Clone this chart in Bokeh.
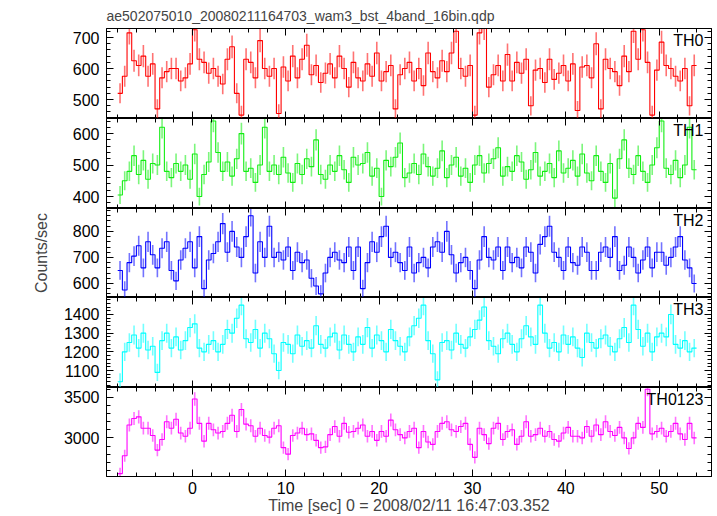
import numpy as np
from bokeh.plotting import figure
from bokeh.models import Range1d, LinearAxis, SingleIntervalTicker, Label
from bokeh.layouts import column
from bokeh.embed import file_html
from bokeh.resources import INLINE

TITLE = "ae502075010_20080211164703_wam3_bst_4band_16bin.qdp"
X_LABEL = "Time [sec] 0 = 2008/02/11 16:47:03.352"
Y_LABEL = "Counts/sec"
BIN_START = -8.0
BIN_WIDTH = 0.5

panel_names = ["TH0", "TH1", "TH2", "TH3", "TH0123"]
panel_colors = ["#ff0000", "#11ee11", "#0000ff", "#00ffff", "#ff00ff"]
y_limits = [(439, 729), (362, 648), (546, 888), (1009, 1491), (2524, 3622)]
y_major = [100, 100, 100, 100, 500]
x_limits = (-9.2, 55.6)

th0 = [520, 575, 715, 625, 610, 640, 575, 615, 470, 570, 590, 600, 600, 560, 570, 615,
       725, 630, 620, 585, 600, 575, 550, 630, 670, 520, 450, 630, 620, 570, 690, 600,
       575, 600, 455, 605, 560, 640, 570, 630, 675, 580, 610, 555, 585, 615, 570, 640,
       600, 540, 620, 570, 560, 615, 575, 650, 560, 590, 610, 470, 580, 600, 620, 560,
       600, 545, 650, 590, 570, 625, 590, 650, 720, 600, 575, 610, 450, 715, 730, 540,
       580, 610, 560, 645, 560, 620, 585, 630, 480, 595, 600, 555, 630, 565, 585, 610,
       560, 615, 465, 605, 610, 570, 680, 470, 630, 600, 590, 545, 640, 590, 720, 630,
       725, 620, 450, 595, 685, 610, 600, 575, 560, 600, 480, 610]

th1 = [405, 450, 480, 530, 470, 515, 455, 505, 500, 620, 480, 460, 505, 480, 500, 455,
       535, 400, 470, 510, 640, 540, 480, 510, 465, 520, 600, 480, 490, 445, 500, 620,
       480, 500, 470, 525, 475, 445, 505, 470, 520, 495, 580, 470, 455, 500, 480, 530,
       485, 445, 525, 500, 505, 540, 465, 490, 400, 515, 495, 525, 570, 460, 475, 505,
       470, 535, 495, 465, 490, 545, 460, 500, 525, 465, 490, 445, 500, 530, 475, 505,
       520, 555, 465, 495, 480, 530, 510, 455, 485, 540, 465, 480, 505, 460, 545, 475,
       490, 515, 465, 535, 475, 450, 530, 480, 445, 505, 395, 520, 580, 490, 470, 530,
       480, 445, 500, 555, 640, 490, 470, 515, 460, 500, 620, 485]

th2 = [650, 575, 680, 705, 745, 660, 760, 710, 660, 735, 760, 650, 610, 690, 735, 760,
       660, 780, 580, 690, 715, 760, 830, 720, 800, 740, 700, 780, 860, 640, 760, 700,
       820, 700, 720, 690, 740, 650, 720, 680, 690, 620, 590, 560, 640, 700, 720, 690,
       680, 740, 650, 740, 580, 680, 760, 720, 780, 820, 700, 720, 680, 650, 740, 640,
       680, 700, 660, 740, 760, 720, 800, 710, 640, 680, 700, 650, 580, 690, 780, 700,
       690, 740, 650, 740, 680, 700, 660, 740, 720, 640, 750, 780, 820, 720, 700, 650,
       740, 680, 670, 740, 720, 650, 650, 720, 740, 700, 780, 650, 670, 740, 700, 640,
       690, 740, 660, 720, 720, 670, 700, 740, 780, 690, 660, 600]

th3 = [1040, 1200, 1250, 1290, 1220, 1300, 1210, 1230, 1090, 1260, 1300, 1220, 1280, 1210,
       1260, 1330, 1350, 1220, 1200, 1240, 1260, 1200, 1240, 1320, 1300, 1380, 1450, 1270,
       1250, 1320, 1220, 1300, 1270, 1190, 1100, 1250, 1240, 1190, 1290, 1230, 1260, 1220,
       1340, 1240, 1220, 1280, 1300, 1210, 1290, 1240, 1200, 1280, 1240, 1330, 1220, 1290,
       1260, 1200, 1320, 1260, 1230, 1200, 1280, 1340, 1380, 1450, 1260, 1190, 1050, 1250,
       1260, 1210, 1300, 1240, 1220, 1280, 1320, 1370, 1440, 1260, 1230, 1190, 1270, 1300,
       1240, 1200, 1270, 1340, 1280, 1240, 1450, 1300, 1220, 1250, 1200, 1290, 1240, 1280,
       1220, 1170, 1300, 1250, 1220, 1270, 1290, 1230, 1200, 1270, 1330, 1250, 1450, 1320,
       1230, 1300, 1200, 1280, 1300, 1280, 1400, 1240, 1220, 1260, 1200, 1220]

th0123 = [2560, 2780, 3160, 3240, 3260, 3120, 3120, 3030, 2850, 2980, 3200, 3120, 3230, 3060,
          3020, 3120, 3480, 3180, 2960, 3180, 3100, 3060, 3080, 3180, 3280, 3080, 3350, 3170,
          3150, 3020, 3120, 3030, 3010, 3120, 3150, 2880, 2800, 3030, 3060, 3120, 3040, 3050,
          2970, 2880, 2890, 3040, 3140, 3020, 3180, 3070, 3080, 3120, 3160, 3020, 3080, 2970,
          3080, 3020, 3220, 3100, 3040, 3000, 3080, 3120, 2880, 3080, 2950, 2920, 3080, 3180,
          3200, 3100, 3080, 3140, 3180, 2920, 2760, 3120, 3040, 2930, 3120, 3180, 2980, 3080,
          3100, 2920, 3020, 3200, 3020, 3040, 3120, 3020, 3080, 2980, 2960, 3060, 3130, 3020,
          3020, 3000, 3140, 3020, 3160, 3040, 3200, 3080, 3030, 3130, 3000, 2870, 3000, 3180,
          3130, 3600, 3050, 3080, 3120, 3020, 3080, 3180, 3050, 2980, 3180, 3000]

series = [th0, th1, th2, th3, th0123]

FONT = "Liberation Sans"
FRAME_W = 605
FRAME_HEIGHTS = [90, 90, 89, 90, 89]
LEFT = 106
RIGHT = 4
TOP = 27

xr = Range1d(*x_limits)


def style_axis(ax, labels):
    ax.axis_line_color = "black"
    ax.major_tick_line_color = "black"
    ax.minor_tick_line_color = "black"
    ax.major_tick_in = 7
    ax.major_tick_out = 0
    ax.minor_tick_in = 4
    ax.minor_tick_out = 0
    if labels:
        ax.major_label_text_font = FONT
        ax.major_label_text_font_size = "16px"
        ax.major_label_text_color = "black"
    else:
        ax.major_label_text_color = None
        ax.major_label_text_font_size = "0px"
        ax.major_label_standoff = 0


figs = []
n = len(series)
for k in range(n):
    vals = np.array(series[k], dtype=float)
    nb = len(vals)
    edges = BIN_START + BIN_WIDTH * np.arange(nb + 1)
    centers = 0.5 * (edges[:-1] + edges[1:])
    err = np.sqrt(vals * BIN_WIDTH) / BIN_WIDTH
    xs = np.repeat(edges, 2)[1:-1]
    ys = np.repeat(vals, 2)

    ylo, yhi = y_limits[k]
    p = figure(frame_width=FRAME_W, frame_height=FRAME_HEIGHTS[k], x_range=xr,
               y_range=Range1d(ylo, yhi), output_backend="svg",
               toolbar_location=None, x_axis_location=None, y_axis_location=None,
               min_border=0, min_border_left=LEFT, min_border_right=RIGHT,
               min_border_top=(TOP if k == 0 else 0),
               background_fill_color="white", border_fill_color="white")
    p.outline_line_color = "black"
    p.grid.visible = False

    col = panel_colors[k]
    p.segment(centers, vals - err, centers, vals + err, line_color=col,
              line_alpha=0.55, line_width=1.6)
    p.line(xs, ys, line_color=col, line_width=1.1)

    left = LinearAxis(ticker=SingleIntervalTicker(interval=y_major[k], num_minor_ticks=5))
    style_axis(left, True)
    left.major_label_standoff = 7
    if k == 2:
        left.axis_label = Y_LABEL
        left.axis_label_text_font = FONT
        left.axis_label_text_font_size = "16px"
        left.axis_label_text_font_style = "normal"
        left.axis_label_standoff = 20
    p.add_layout(left, "left")
    right = LinearAxis(ticker=SingleIntervalTicker(interval=y_major[k], num_minor_ticks=5))
    style_axis(right, False)
    p.add_layout(right, "right")

    top = LinearAxis(ticker=SingleIntervalTicker(interval=10, num_minor_ticks=5))
    style_axis(top, False)
    p.add_layout(top, "above")
    bottom = LinearAxis(ticker=SingleIntervalTicker(interval=10, num_minor_ticks=5))
    if k == n - 1:
        style_axis(bottom, True)
        bottom.major_label_standoff = 5
        bottom.axis_label = X_LABEL
        bottom.axis_label_text_font = FONT
        bottom.axis_label_text_font_size = "16px"
        bottom.axis_label_text_font_style = "normal"
        bottom.axis_label_standoff = 0
    else:
        style_axis(bottom, False)
    p.add_layout(bottom, "below")

    p.add_layout(Label(x=x_limits[1], y=yhi, x_offset=-8, y_offset=-3,
                       text=panel_names[k], text_align="right", text_baseline="top",
                       text_font=FONT, text_font_size="16px", text_color="black"))

    if k == 0:
        p.title.text = TITLE
        p.title.text_font = FONT
        p.title.text_font_size = "14px"
        p.title.text_font_style = "normal"
        p.title.align = "left"
        p.title.offset = 0
        p.title.standoff = 10
    figs.append(p)

layout = column(*figs, spacing=0)
open("out.html", "w").write(file_html(layout, INLINE))
